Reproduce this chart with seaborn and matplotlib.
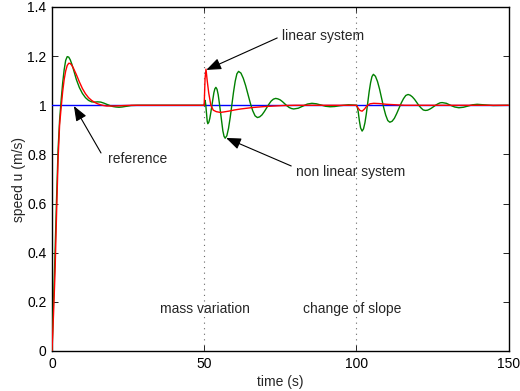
import numpy as np
import pandas as pd
import seaborn as sns
import matplotlib
matplotlib.use("Agg")
import matplotlib.pyplot as plt

# ---- data ----
ref_t = [0, 150]
ref_v = [1.0, 1.0]

nonlin_t = [0, 0.5, 1, 1.5, 2, 2.5, 3, 3.5, 4, 4.5, 5, 5.5, 6, 6.5, 7, 8, 9, 10, 11, 12,
            13, 14, 15, 16, 17, 18, 19, 20, 21, 22, 23, 24, 26, 28, 30, 50,
            50.3, 50.5, 50.75, 51.0, 51.2,
            51.53, 51.86, 52.19, 52.53, 52.86, 53.19, 53.52, 53.85,
            54.23, 54.61, 54.99, 55.38, 55.76, 56.14, 56.52, 56.9,
            57.45, 58.0, 58.55, 59.1, 59.65, 60.2, 60.75, 61.3,
            62.08, 62.85, 63.63, 64.4, 65.18, 65.95, 66.73, 67.5,
            68.25, 69, 69.75, 70.5, 71.25, 72, 72.75, 73.5,
            74.24, 74.98, 75.71, 76.45, 77.19, 77.93, 78.66, 79.4,
            80.9, 82.4, 83.9, 85.4, 86.9, 88.4, 89.9, 91.4, 92.9, 94.4,
            95.9, 97.4, 100,
            100.2, 100.6, 101.0, 101.4, 101.9,
            102.36, 102.83, 103.29, 103.75, 104.21, 104.68, 105.14, 105.6,
            106.28, 106.95, 107.63, 108.3, 108.98, 109.65, 110.33, 111,
            111.75, 112.5, 113.25, 114, 114.75, 115.5, 116.25, 117,
            117.71, 118.43, 119.14, 119.85, 120.56, 121.28, 121.99, 122.7,
            123.39, 124.08, 124.76, 125.45, 126.14, 126.83, 127.51, 128.2,
            129.6, 130.95, 132.3, 133.7, 135.2, 136.7, 138.2, 139.7, 142, 145, 150]
nonlin_v = [0, 0.2, 0.4, 0.62, 0.82, 0.94, 1.02, 1.09, 1.145, 1.183, 1.198, 1.196, 1.185,
            1.168, 1.148, 1.105, 1.072, 1.048, 1.031, 1.02, 1.014, 1.013, 1.014, 1.013,
            1.009, 1.004, 0.999, 0.995, 0.993, 0.992, 0.993, 0.995, 0.999, 1.0, 1.0, 1.0,
            1.02, 1.005, 0.97, 0.935, 0.925,
            0.931, 0.947, 0.971, 0.999, 1.027, 1.051, 1.067, 1.073,
            1.065, 1.043, 1.009, 0.9695, 0.930, 0.896, 0.874, 0.866,
            0.876, 0.906, 0.950, 1.002, 1.054, 1.098, 1.128, 1.138,
            1.131, 1.110, 1.080, 1.044, 1.008, 0.978, 0.957, 0.950,
            0.953, 0.961, 0.974, 0.989, 1.004, 1.017, 1.025, 1.028,
            1.026, 1.022, 1.015, 1.0065, 0.998, 0.991, 0.987, 0.985,
            0.988, 0.9965, 1.005, 1.008, 1.006, 1.001, 0.996, 0.994, 0.995, 0.998,
            1.0, 1.002, 1.0,
            1.0, 0.975, 0.937, 0.908, 0.895,
            0.904, 0.929, 0.966, 1.0105, 1.055, 1.092, 1.117, 1.126,
            1.118, 1.097, 1.066, 1.0285, 0.991, 0.960, 0.938, 0.931,
            0.935, 0.947, 0.966, 0.9875, 1.009, 1.027, 1.040, 1.044,
            1.041, 1.034, 1.024, 1.0115, 0.999, 0.989, 0.981, 0.979,
            0.980, 0.984, 0.989, 0.995, 1.001, 1.006, 1.010, 1.011,
            1.008, 1.0, 0.993, 0.99, 0.992, 0.997, 1.002, 1.004, 1.002, 0.999, 1.0]

lin_t = [0, 0.5, 1, 1.5, 2, 2.5, 3, 3.5, 4, 4.5, 5, 5.5, 6, 6.5, 7, 8, 9, 10, 11, 12, 13,
         14, 15, 16, 17, 18, 20, 22, 24, 26, 30, 50, 50.3, 50.6, 51.0, 51.5, 52.2, 53,
         54, 55.3, 56.5, 58, 60, 62, 64, 66, 68, 70, 73, 76, 80, 100, 100.5, 101.2,
         101.9, 102.7, 103.5, 104.5, 105.7, 107.5, 110, 113, 116, 150]
lin_v = [0, 0.15, 0.32, 0.56, 0.78, 0.92, 0.99, 1.055, 1.105, 1.14, 1.162, 1.171, 1.17,
         1.163, 1.152, 1.125, 1.095, 1.068, 1.047, 1.031, 1.02, 1.012, 1.006, 1.002,
         0.999, 0.997, 0.997, 0.998, 0.999, 1.0, 1.0, 1.0, 1.11, 1.147, 1.10, 1.05, 1.0,
         0.98, 0.974, 0.971, 0.973, 0.976, 0.981, 0.985, 0.988, 0.991, 0.993, 0.995,
         0.997, 0.999, 1.0, 1.0, 0.99, 0.979, 0.976, 0.985, 0.998, 1.006, 1.008, 1.007,
         1.004, 1.002, 1.0, 1.0]

series_names = ["reference", "non linear system", "linear system"]
series_colors = ["#0000ff", "#008000", "#ff0000"]
x_ticks = [0, 50, 100, 150]
y_ticks = [0, 0.2, 0.4, 0.6, 0.8, 1.0, 1.2, 1.4]
y_ticklabels = ["0", "0.2", "0.4", "0.6", "0.8", "1", "1.2", "1.4"]
event_times = [50, 100]

df = pd.concat([
    pd.DataFrame({"t": ref_t, "v": ref_v, "s": series_names[0]}),
    pd.DataFrame({"t": nonlin_t, "v": nonlin_v, "s": series_names[1]}),
    pd.DataFrame({"t": lin_t, "v": lin_v, "s": series_names[2]}),
], ignore_index=True)

sns.set_style("ticks")
plt.rcParams["font.family"] = ["Liberation Sans", "DejaVu Sans"]
plt.rcParams["font.size"] = 10

fig = plt.figure(figsize=(5.2, 3.91), dpi=100)
ax = fig.add_axes([52 / 520, 1 - 351 / 391, (508.5 - 52) / 520, (351 - 7) / 391])

for xe in event_times:
    ax.axvline(xe, color="0.4", lw=0.8, linestyle=(0, (1, 4)), zorder=1)

sns.lineplot(data=df, x="t", y="v", hue="s", hue_order=series_names,
             palette=series_colors, sort=False, estimator=None, lw=1.0,
             legend=False, ax=ax, zorder=3)

ax.set_xlim(0, 150)
ax.set_ylim(0, 1.4)
ax.set_xticks(x_ticks)
ax.set_yticks(y_ticks)
ax.set_yticklabels(y_ticklabels)
ax.set_xlabel("time (s)", fontsize=10, labelpad=3)
ax.set_ylabel("speed u (m/s)", fontsize=10, labelpad=1)
ax.tick_params(direction="in", length=4, width=0.6, top=True, right=True,
               labelsize=10, pad=4, colors="black")
for sp in ax.spines.values():
    sp.set_visible(True)
    sp.set_linewidth(1.0)
    sp.set_color("black")

ax.text(50.3, 0.171, "mass variation", ha="center", va="center", fontsize=10)
ax.text(98.5, 0.171, "change of slope", ha="center", va="center", fontsize=10)

ap = dict(arrowstyle="-|>,head_length=0.9,head_width=0.35", color="black",
          lw=0.8, mutation_scale=10, shrinkA=0, shrinkB=0)
ax.annotate("", xy=(50.7, 1.144), xytext=(74.0, 1.274), arrowprops=ap, zorder=5)
ax.text(75.7, 1.282, "linear system", ha="left", va="center", fontsize=10)
ax.annotate("", xy=(7.2, 0.997), xytext=(16.1, 0.806), arrowprops=ap, zorder=5)
ax.text(18.4, 0.781, "reference", ha="left", va="center", fontsize=10)
ax.annotate("", xy=(57.2, 0.867), xytext=(78.6, 0.753), arrowprops=ap, zorder=5)
ax.text(80.3, 0.729, "non linear system", ha="left", va="center", fontsize=10)

fig.savefig("out.png", dpi=100)
